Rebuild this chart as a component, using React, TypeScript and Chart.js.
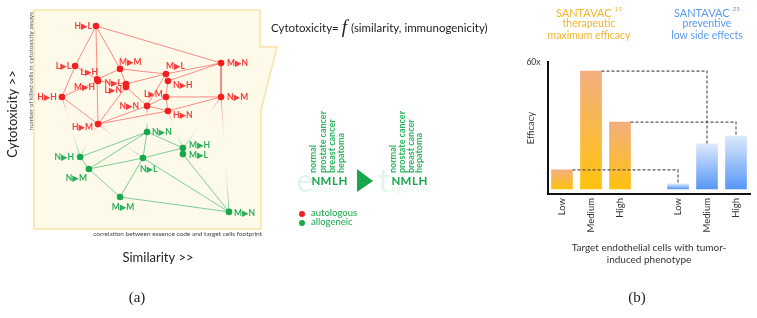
import { useEffect, useRef } from 'react';
import { Chart, registerables } from 'chart.js';

Chart.register(...registerables);

const FONT = 'Lato, "Open Sans", "DejaVu Sans", sans-serif';
const SERIF = '"Liberation Serif", "DejaVu Serif", serif';

// ---------- Panel (a): network of essence ▶ target pairs ----------
const redLabels = ['H▶L', 'L▶L', 'M▶M', 'L▶H', 'M▶H', 'N▶L', 'L▶N', 'M▶L', 'N▶H', 'L▶M', 'M▶N', 'N▶M', 'H▶H', 'N▶N', 'H▶N', 'H▶M'];
const redSimilarity = [27.3, 18.1, 37.9, 27.8, 28.2, 40.5, 40.5, 58.1, 59.0, 58.1, 82.4, 82.4, 12.3, 49.8, 59.0, 28.2];
const redCytotoxicity = [92.7, 74.4, 73.1, 68.3, 67.6, 66.2, 64.8, 70.8, 67.6, 60.3, 75.8, 60.3, 60.3, 56.2, 53.9, 47.9];

const greenLabels = ['N▶N', 'M▶H', 'M▶L', 'N▶H', 'N▶L', 'N▶M', 'M▶M', 'M▶N'];
const greenSimilarity = [49.8, 65.6, 65.6, 20.3, 48.0, 24.2, 37.9, 85.9];
const greenCytotoxicity = [44.3, 37.0, 34.2, 32.9, 32.4, 27.4, 14.6, 7.8];

const redEdges: [number, number][] = [
  [0, 1], [0, 15], [0, 2], [0, 10], [1, 3], [1, 12], [2, 3], [2, 7], [2, 5],
  [12, 4], [12, 15], [4, 5], [5, 7], [7, 10], [8, 10], [6, 13], [6, 15],
  [7, 8], [7, 13], [13, 9], [8, 9], [9, 11], [9, 14], [10, 11], [11, 14],
  [13, 15], [14, 15], [13, 14],
];
const greenEdges: [number, number][] = [
  [0, 3], [0, 5], [0, 4], [0, 1], [3, 5], [5, 4], [4, 1], [5, 6], [6, 4],
  [6, 7], [4, 7], [2, 7], [1, 2],
];
// [red node, green node]
const crossEdges: [number, number][] = [
  [12, 3], [15, 3], [15, 4], [13, 0], [14, 1], [11, 1], [11, 7],
];

// label placement (style): [dx, dy, align]
const redLabelPlace: [number, number, CanvasTextAlign][] = [
  [-4, 0, 'right'], [-4, 0, 'right'], [-1, -7, 'left'], [1, -7, 'right'], [-3, 6, 'right'],
  [-4, -1, 'right'], [-4, 3, 'right'], [0, -8, 'left'], [5, 4, 'left'], [-3, -3, 'right'],
  [6, 0, 'left'], [6, 0, 'left'], [-5, 0, 'right'], [-8, 0, 'right'], [5, 4, 'left'], [-5, 3, 'right'],
];
const greenLabelPlace: [number, number, CanvasTextAlign][] = [
  [5, 0, 'left'], [6, -3, 'left'], [6, 1, 'left'], [-6, 0, 'right'], [-3, 11, 'left'],
  [-2, 9, 'right'], [3, 10, 'center'], [5, 1, 'left'],
];

const cellTypes = ['normal', 'prostate cancer', 'breast cancer', 'hepatoma'];
const cellCodes = ['N', 'M', 'L', 'H'];

// ---------- Panel (b): efficacy bars ----------
const efficacyCategories = ['Low', 'Medium', 'High', '', 'Low', 'Medium', 'High'];
const efficacyValues: (number | null)[] = [9.0, 55.7, 31.6, null, 2.4, 21.3, 25.0];
const therapeuticIdx = [0, 1, 2];
const preventiveIdx = [4, 5, 6];
const yTickValues = [60];
const yTickLabels = ['60x'];
const xAxisTitle = ['Target endothelial cells with tumor-', 'induced phenotype'];

const RED = '#f31f1f';
const GREEN = '#17a84b';
const ORANGE_TXT = '#f6b42a';
const BLUE_TXT = '#5a9bf0';

const toPoints = (xs: number[], ys: number[]) => xs.map((x, i) => ({ x, y: ys[i] }));
const toEdges = (edges: [number, number][], xa: number[], ya: number[], xb: number[], yb: number[]) => {
  const out: any[] = [];
  edges.forEach(([a, b]) => {
    out.push({ x: xa[a], y: ya[a] }, { x: xb[b], y: yb[b] }, { x: null, y: null });
  });
  return out;
};

function rotText(ctx: CanvasRenderingContext2D, text: string, x: number, y: number, align: CanvasTextAlign) {
  ctx.save();
  ctx.translate(x, y);
  ctx.rotate(-Math.PI / 2);
  ctx.textAlign = align;
  ctx.textBaseline = 'middle';
  ctx.fillText(text, 0, 0);
  ctx.restore();
}

const boxPlugin = {
  id: 'boxA',
  beforeDraw(chart: any) {
    const { ctx, chartArea: a } = chart;
    ctx.save();
    ctx.beginPath();
    ctx.moveTo(a.left, a.top);
    ctx.lineTo(a.right - 1, a.top);
    ctx.lineTo(a.right - 1, 47);
    ctx.lineTo(277, 47);
    ctx.lineTo(a.right, 110);
    ctx.lineTo(a.right, a.bottom);
    ctx.lineTo(a.left, a.bottom);
    ctx.closePath();
    ctx.fillStyle = '#fefaea';
    ctx.fill();
    ctx.strokeStyle = '#f8e3a4';
    ctx.lineWidth = 1.5;
    ctx.stroke();
    ctx.restore();
  },
};

const labelsPlugin = {
  id: 'labelsA',
  afterDatasetsDraw(chart: any) {
    const ctx = chart.ctx as CanvasRenderingContext2D;
    ctx.save();
    ctx.font = `bold 8.5px ${FONT}`;
    ctx.textBaseline = 'middle';
    const draw = (ds: number, labels: string[], place: [number, number, CanvasTextAlign][], color: string) => {
      const meta = chart.getDatasetMeta(ds);
      ctx.fillStyle = color;
      meta.data.forEach((el: any, i: number) => {
        const [dx, dy, al] = place[i];
        ctx.textAlign = al;
        ctx.fillText(labels[i], el.x + dx, el.y + dy);
      });
    };
    draw(0, redLabels, redLabelPlace, '#f83a3a');
    draw(1, greenLabels, greenLabelPlace, '#28b05a');
    ctx.restore();
  },
};

const annotationsA = {
  id: 'annotA',
  afterDraw(chart: any) {
    const ctx = chart.ctx as CanvasRenderingContext2D;
    ctx.save();
    ctx.fillStyle = '#222';
    ctx.font = `13px ${FONT}`;
    rotText(ctx, 'Cytotoxicity >>', 13, 114, 'center');
    ctx.fillStyle = '#555';
    ctx.font = `6.3px ${FONT}`;
    rotText(ctx, 'number of killed cells in cytotoxicity assays', 31, 12, 'right');
    ctx.textBaseline = 'middle';
    ctx.textAlign = 'right';
    ctx.font = `6.5px ${FONT}`;
    ctx.fillStyle = '#444';
    ctx.fillText('correlation between essence code and target cells footprint', 262, 234);
    ctx.fillStyle = '#222';
    ctx.font = `13px ${FONT}`;
    ctx.textAlign = 'center';
    ctx.fillText('Similarity >>', 158, 258);

    // formula
    ctx.textAlign = 'left';
    ctx.font = `11.5px ${FONT}`;
    let x = 271;
    ctx.fillText('Cytotoxicity=', x, 28);
    x += ctx.measureText('Cytotoxicity=').width + 3;
    ctx.font = `italic 19px ${SERIF}`;
    ctx.fillText('f', x, 28);
    x += ctx.measureText('f').width + 4;
    ctx.font = `11.5px ${FONT}`;
    ctx.fillText('(similarity, immunogenicity)', x, 28);

    // essence / target legend
    const wordsL = [313, 323, 332, 341];
    const lettersL = [316, 326, 335, 343];
    const wordsR = [393, 402, 411, 419];
    const lettersR = [396, 406, 415, 423];
    ctx.fillStyle = 'rgba(40,180,100,0.13)';
    ctx.font = `32px ${FONT}`;
    ctx.textAlign = 'center';
    ctx.fillText('e', 305, 182);
    ctx.fillText('t', 384, 182);
    ctx.font = `9px ${FONT}`;
    ctx.textAlign = 'left';
    ctx.fillText('ssence', 313, 189);
    ctx.fillText('arget cells', 389, 189);
    ctx.fillStyle = '#2db35d';
    ctx.font = `bold 9px ${FONT}`;
    cellTypes.forEach((t, i) => {
      rotText(ctx, t, wordsL[i], 173, 'left');
      rotText(ctx, t, wordsR[i], 173, 'left');
    });
    ctx.fillStyle = '#1aa64c';
    ctx.font = `bold 11.5px ${FONT}`;
    ctx.textAlign = 'center';
    ctx.textBaseline = 'middle';
    cellCodes.forEach((c, i) => {
      ctx.fillText(c, lettersL[i], 181);
      ctx.fillText(c, lettersR[i], 181);
    });
    ctx.beginPath();
    ctx.moveTo(357, 169);
    ctx.lineTo(357, 192);
    ctx.lineTo(373, 181);
    ctx.closePath();
    ctx.fill();

    // dot legend
    ctx.beginPath();
    ctx.arc(302, 214, 3, 0, Math.PI * 2);
    ctx.fillStyle = RED;
    ctx.fill();
    ctx.beginPath();
    ctx.arc(302, 223, 3, 0, Math.PI * 2);
    ctx.fillStyle = GREEN;
    ctx.fill();
    ctx.fillStyle = '#1aa64c';
    ctx.font = `9.5px ${FONT}`;
    ctx.textAlign = 'left';
    ctx.fillText(chart.data.datasets[0].label, 311, 213);
    ctx.fillText(chart.data.datasets[1].label, 311, 222);

    ctx.fillStyle = '#222';
    ctx.font = `15px ${SERIF}`;
    ctx.textAlign = 'center';
    ctx.fillText('(a)', 137, 298);
    ctx.restore();
  },
};

const OFF_B = 500;

const connectorsB = {
  id: 'connB',
  afterDatasetsDraw(chart: any) {
    const ctx = chart.ctx as CanvasRenderingContext2D;
    const meta = chart.getDatasetMeta(0);
    ctx.save();
    ctx.strokeStyle = '#555';
    ctx.lineWidth = 1.2;
    ctx.setLineDash([3, 2]);
    therapeuticIdx.forEach((a, k) => {
      const ea = meta.data[a];
      const eb = meta.data[preventiveIdx[k]];
      ctx.beginPath();
      ctx.moveTo(ea.x + ea.width / 2, ea.y);
      ctx.lineTo(eb.x, ea.y);
      ctx.lineTo(eb.x, eb.y);
      ctx.stroke();
    });
    ctx.restore();
  },
  afterDraw(chart: any) {
    const ctx = chart.ctx as CanvasRenderingContext2D;
    ctx.save();
    const head = (cx: number, color: string, sup: string, l1: string, l2: string) => {
      ctx.fillStyle = color;
      ctx.textBaseline = 'middle';
      ctx.font = `11px ${FONT}`;
      const w1 = ctx.measureText('SANTAVAC').width;
      ctx.font = `6.5px ${FONT}`;
      const w2 = ctx.measureText(sup).width;
      const x0 = cx - (w1 + 3 + w2) / 2;
      ctx.textAlign = 'left';
      ctx.font = `11px ${FONT}`;
      ctx.fillText('SANTAVAC', x0, 13);
      ctx.font = `6.5px ${FONT}`;
      ctx.fillText(sup, x0 + w1 + 3, 9);
      ctx.textAlign = 'center';
      ctx.font = `10.5px ${FONT}`;
      ctx.fillText(l1, cx, 24);
      ctx.fillText(l2, cx, 36);
    };
    head(589 - OFF_B, ORANGE_TXT, '15', 'therapeutic', 'maximum efficacy');
    head(707 - OFF_B, BLUE_TXT, '25', 'preventive', 'low side effects');
    ctx.fillStyle = '#222';
    ctx.font = `15px ${SERIF}`;
    ctx.textAlign = 'center';
    ctx.textBaseline = 'middle';
    ctx.fillText('(b)', 637 - OFF_B, 298);
    ctx.restore();
  },
};

export default function App() {
  const refA = useRef<HTMLCanvasElement>(null);
  const refB = useRef<HTMLCanvasElement>(null);

  useEffect(() => {
    if (!refA.current || !refB.current) return;
    Chart.defaults.font.family = FONT;

    const crossGradient = (c: any) => {
      const g = c.chart.ctx.createLinearGradient(c.p0.x, c.p0.y, c.p1.x, c.p1.y);
      g.addColorStop(0, 'rgba(245,90,90,0.7)');
      g.addColorStop(0.5, 'rgba(255,255,255,0)');
      g.addColorStop(1, 'rgba(40,175,100,0.7)');
      return g;
    };

    const chartA = new Chart(refA.current, {
      type: 'line',
      data: {
        datasets: [
          {
            label: 'autologous',
            data: toPoints(redSimilarity, redCytotoxicity),
            showLine: false, pointRadius: 3.3, pointBackgroundColor: RED, pointBorderWidth: 0, clip: false,
          } as any,
          {
            label: 'allogeneic',
            data: toPoints(greenSimilarity, greenCytotoxicity),
            showLine: false, pointRadius: 3.3, pointBackgroundColor: GREEN, pointBorderWidth: 0, clip: false,
          },
          {
            label: 'autologous links',
            data: toEdges(redEdges, redSimilarity, redCytotoxicity, redSimilarity, redCytotoxicity),
            borderColor: 'rgba(248,95,95,0.72)', borderWidth: 1, pointRadius: 0, spanGaps: false,
          },
          {
            label: 'allogeneic links',
            data: toEdges(greenEdges, greenSimilarity, greenCytotoxicity, greenSimilarity, greenCytotoxicity),
            borderColor: 'rgba(45,175,105,0.62)', borderWidth: 1, pointRadius: 0, spanGaps: false,
          },
          {
            label: 'cross links',
            data: toEdges(crossEdges, redSimilarity, redCytotoxicity, greenSimilarity, greenCytotoxicity),
            borderColor: 'rgba(200,120,100,0.4)', borderWidth: 1, pointRadius: 0, spanGaps: false,
            segment: { borderColor: crossGradient },
          },
        ],
      },
      options: {
        responsive: false,
        animation: false,
        events: [],
        layout: { padding: { left: 34, top: 10, right: 239, bottom: 89 } },
        scales: {
          x: { type: 'linear', display: false, min: 0, max: 100 },
          y: { type: 'linear', display: false, min: 0, max: 100 },
        },
        plugins: { legend: { display: false }, tooltip: { enabled: false } },
      },
      plugins: [boxPlugin, labelsPlugin, annotationsA],
    });

    const chartB = new Chart(refB.current, {
      type: 'bar',
      data: {
        labels: efficacyCategories,
        datasets: [
          {
            label: 'Efficacy',
            data: efficacyValues,
            barThickness: 21,
            borderWidth: 0,
            backgroundColor: (c: any) => {
              const chart = c.chart;
              const ys = chart.scales && chart.scales.y;
              const v = c.raw;
              const orange = c.dataIndex < 3;
              if (v == null || !ys) return orange ? '#f8b850' : '#8ab8f6';
              const top = ys.getPixelForValue(v);
              const base = ys.getPixelForValue(0);
              if (!isFinite(top) || !isFinite(base) || Math.abs(base - top) < 0.5) return orange ? '#f8b850' : '#8ab8f6';
              const g = chart.ctx.createLinearGradient(0, top, 0, base);
              g.addColorStop(0, orange ? '#f2ae80' : '#dde9fd');
              g.addColorStop(1, orange ? '#ffc20e' : '#5797f5');
              return g;
            },
          },
        ],
      },
      options: {
        responsive: false,
        animation: false,
        events: [],
        layout: { padding: { left: 25.5, top: 62, right: 6.5, bottom: 52 } },
        scales: {
          x: {
            type: 'category',
            offset: true,
            grid: { display: false, drawTicks: false },
            border: { display: true, color: '#111', width: 2 },
            ticks: { autoSkip: false, minRotation: 90, maxRotation: 90, padding: 4, color: '#333', font: { family: FONT, size: 9.5 } },
            title: { display: true, text: xAxisTitle, color: '#333', font: { family: FONT, size: 10 }, padding: { top: 0, bottom: 0 } },
            afterFit: (s: any) => { s.height = 72; },
          },
          y: {
            type: 'linear',
            min: -2.4,
            max: 60,
            grid: { display: false, drawTicks: false },
            border: { display: true, color: '#111', width: 2 },
            afterBuildTicks: (s: any) => { s.ticks = yTickValues.map((v) => ({ value: v })); },
            ticks: {
              padding: 7,
              color: '#333',
              font: { family: FONT, size: 8.5 },
              callback: (v: any) => { const i = yTickValues.indexOf(Number(v)); return i >= 0 ? yTickLabels[i] : ''; },
            },
            title: { display: true, text: 'Efficacy', color: '#333', font: { family: FONT, size: 9.5 }, padding: { top: 0, bottom: 0 } },
            afterFit: (s: any) => { s.width = 22; },
          },
        },
        plugins: { legend: { display: false }, tooltip: { enabled: false } },
      },
      plugins: [connectorsB],
    });

    return () => {
      chartA.destroy();
      chartB.destroy();
    };
  }, []);

  return (
    <div style={{ position: 'absolute', left: 0, top: 0, width: 757, height: 318, background: '#fff' }}>
      <canvas ref={refA} width={500} height={318} style={{ position: 'absolute', left: 0, top: 0 }} />
      <canvas ref={refB} width={257} height={318} style={{ position: 'absolute', left: OFF_B, top: 0 }} />
    </div>
  );
}
